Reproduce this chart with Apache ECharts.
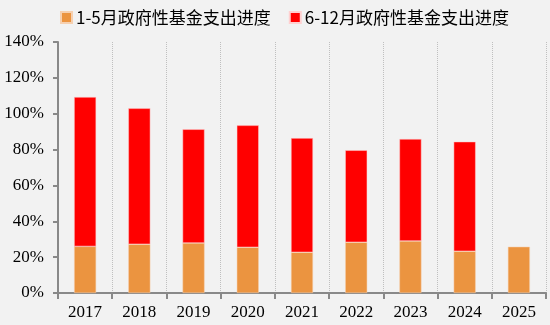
<!DOCTYPE html>
<html><head><meta charset="utf-8">
<script src="https://cdn.jsdelivr.net/npm/echarts@6/dist/echarts.min.js"></script>
<style>html,body{margin:0;padding:0;background:#F2F2F2;}#c{width:550px;height:325px;}</style>
</head><body><div id="c"></div>
<script>
const categories = ['2017','2018','2019','2020','2021','2022','2023','2024','2025'];
const seriesNames = ['1-5月政府性基金支出进度','6-12月政府性基金支出进度'];
const janMay = [26.0, 27.2, 27.9, 25.5, 22.7, 28.3, 29.0, 23.3, 25.8];
const junDec = [83.3, 75.8, 63.4, 68.0, 63.7, 51.3, 56.9, 61.1, null];
const yTicks = [0, 20, 40, 60, 80, 100, 120, 140];

const chart = echarts.init(document.getElementById('c'));
chart.setOption({
  backgroundColor: '#F2F2F2',
  animation: false,
  legend: {
    left: 60, top: 9, padding: 0,
    itemWidth: 11, itemHeight: 11, itemGap: 18,
    icon: 'rect',
    textStyle: { fontFamily: 'Noto Sans CJK SC', fontSize: 17, color: '#000', padding: [0,0,0,-1] },
    data: seriesNames
  },
  grid: { left: 58, right: 4, top: 42, bottom: 32, containLabel: false },
  xAxis: {
    type: 'category', data: categories,
    axisLine: { lineStyle: { color: '#898989', width: 2 } },
    axisTick: { show: true, length: 6, lineStyle: { color: '#898989', width: 2 } },
    axisLabel: { fontFamily: 'Liberation Serif', fontSize: 17, color: '#000', margin: 11 },
    splitLine: { show: true, lineStyle: { color: '#BFBFBF', type: 'dotted', width: 1 } }
  },
  yAxis: {
    type: 'value', min: 0, max: 140, interval: 20,
    axisLine: { show: true, lineStyle: { color: '#898989', width: 2 } },
    axisTick: { show: true, length: 5, lineStyle: { color: '#898989', width: 2 } },
    axisLabel: { fontFamily: 'Liberation Serif', fontSize: 17, color: '#000', margin: 14,
      formatter: v => yTicks.includes(v) ? v + '%' : '' },
    splitLine: { show: false }
  },
  series: [
    { name: seriesNames[0], type: 'bar', stack: 's', data: janMay, barWidth: 22,
      itemStyle: { color: '#EB9440', borderColor: '#F6D0B0', borderWidth: 0.5 } },
    { name: seriesNames[1], type: 'bar', stack: 's', data: junDec, barWidth: 22,
      itemStyle: { color: '#FF0000', borderColor: '#FFD0D0', borderWidth: 0.5 } }
  ]
});
</script></body></html>
